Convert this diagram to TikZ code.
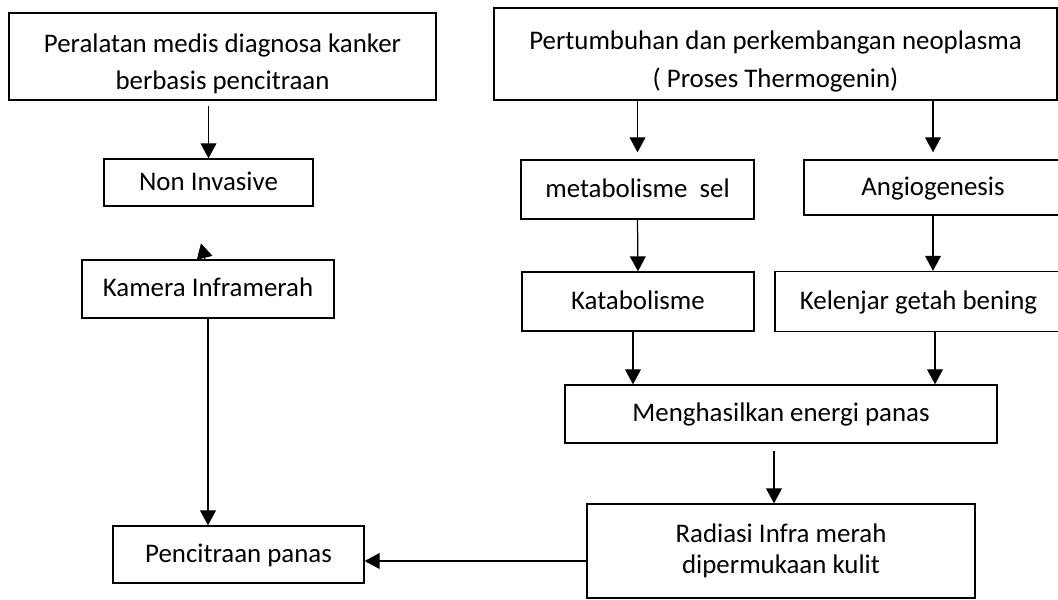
\documentclass[tikz,border=0pt]{standalone}
\usepackage{fontspec}
\setmainfont{Carlito}
\usetikzlibrary{arrows.meta}

\tikzset{
  box/.style={draw,line width=0.8pt,inner sep=0pt,align=center,
    font=\fontsize{15.3}{21.5}\selectfont},
  satu/.style={box,text height=9pt,text depth=0pt},
  arr/.style={-{Triangle[length=8.5pt,width=9pt]},line width=0.7pt},
}
\newcommand{\atas}{\rule{0pt}{19pt}}

\begin{document}
\begin{tikzpicture}[x=0.02cm,y=-0.02cm]
  \useasboundingbox (0,0) rectangle (1058,599);
  % kolom kiri
  \node[box,minimum width=8.54cm,minimum height=1.74cm] (alat) at (222.5,56.5)
    {\atas Peralatan medis diagnosa kanker\\berbasis pencitraan};
  \node[satu,minimum width=4.18cm,minimum height=0.94cm] (noninv) at (208.5,182.5) {Non Invasive};
  \node[satu,minimum width=5.04cm,minimum height=1.16cm] (kamera) at (208,289) {Kamera Inframerah};
  \node[satu,minimum width=5.02cm,minimum height=1.14cm] (citra) at (238.5,554.5) {Pencitraan panas};
  % kolom kanan
  \node[box,minimum width=11.26cm,minimum height=1.84cm] (tumbuh) at (775.5,54)
    {\atas Pertumbuhan dan perkembangan neoplasma\\( Proses Thermogenin)};
  \node[satu,minimum width=4.66cm,minimum height=1.18cm] (metab) at (637.5,189.5) {metabolisme~ sel};
  \node[satu,minimum width=5.16cm,minimum height=1.10cm] (angio) at (933,187.5) {Angiogenesis};
  \node[satu,minimum width=4.64cm,minimum height=1.18cm] (katab) at (638,301.5) {Katabolisme};
  \node[satu,minimum width=5.74cm,minimum height=1.20cm] (kelenjar) at (918.5,301.5) {Kelenjar getah bening};
  \node[satu,minimum width=8.64cm,minimum height=1.16cm] (panas) at (781,414) {Menghasilkan energi panas};
  \node[box,minimum width=7.76cm,minimum height=1.88cm,font=\fontsize{15.3}{18}\selectfont] (radiasi) at (781,551)
    {Radiasi Infra merah\\dipermukaan kulit};
  % panah
  \draw[arr,shorten <=3pt] (alat.south -| noninv.north) -- (noninv.north);
  \draw[arr] ([xshift=-0.06cm]kamera.north) -- ++(-4,-16);
  \draw[arr] (kamera.south) -- (kamera.south |- citra.north);
  \draw[arr,shorten >=4pt] (tumbuh.south -| metab.north) -- (metab.north);
  \draw[arr,shorten >=4pt] (tumbuh.south -| angio.north) -- (angio.north);
  \draw[arr] (metab.south) -- (katab.north);
  \draw[arr] (angio.south) -- (angio.south |- kelenjar.north);
  \draw[arr] ([xshift=-0.1cm]katab.south) -- ([xshift=-0.1cm]katab.south |- panas.north);
  \draw[arr] ([xshift=0.33cm]kelenjar.south) -- ([xshift=0.33cm]kelenjar.south |- panas.north);
  \draw[arr,shorten <=4pt] ([xshift=-0.14cm]panas.south) -- ([xshift=-0.14cm]panas.south |- radiasi.north);
  \draw[arr] ([yshift=-0.2cm]radiasi.west) -- ([yshift=-0.2cm]radiasi.west -| citra.east);
\end{tikzpicture}
\end{document}
